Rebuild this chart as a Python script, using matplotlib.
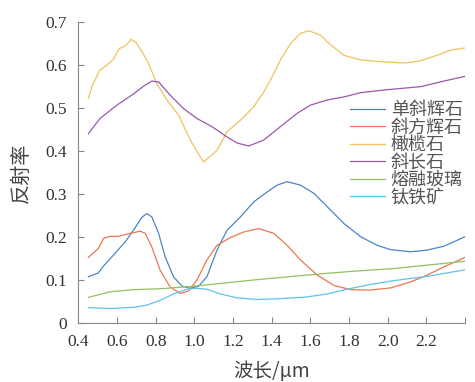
import matplotlib
matplotlib.use("Agg")
import matplotlib.pyplot as plt
import numpy as np

plt.rcParams['font.family'] = ['Liberation Serif', 'Noto Sans CJK SC', 'DejaVu Sans']

# Spectral reflectance of lunar minerals (wavelength in µm)
wl_cpx = [0.452, 0.504, 0.53, 0.581, 0.642, 0.685, 0.728, 0.754, 0.78, 0.815, 0.849, 0.892,
          0.936, 0.979, 1.022, 1.065, 1.117, 1.169, 1.238, 1.307, 1.376, 1.428, 1.48, 1.549,
          1.618, 1.687, 1.773, 1.86, 1.946, 2.015, 2.119, 2.205, 2.291, 2.40]
r_cpx = [0.108, 0.117, 0.133, 0.158, 0.189, 0.216, 0.246, 0.255, 0.247, 0.209, 0.154, 0.108,
         0.086, 0.081, 0.086, 0.108, 0.17, 0.216, 0.247, 0.282, 0.305, 0.321, 0.329, 0.321,
         0.302, 0.271, 0.232, 0.201, 0.181, 0.171, 0.166, 0.17, 0.179, 0.201]

wl_opx = [0.452, 0.504, 0.53, 0.564, 0.607, 0.651, 0.72, 0.746, 0.78, 0.823, 0.875, 0.927,
          0.97, 1.013, 1.065, 1.117, 1.186, 1.255, 1.333, 1.41, 1.48, 1.549, 1.635, 1.721,
          1.808, 1.911, 2.015, 2.119, 2.205, 2.291, 2.40]
r_opx = [0.153, 0.174, 0.197, 0.202, 0.202, 0.207, 0.214, 0.209, 0.177, 0.123, 0.084, 0.069,
         0.075, 0.10, 0.147, 0.181, 0.199, 0.212, 0.22, 0.209, 0.181, 0.147, 0.112, 0.088,
         0.078, 0.077, 0.082, 0.096, 0.112, 0.131, 0.153]

wl_ol = [0.452, 0.47, 0.51, 0.547, 0.58, 0.612, 0.642, 0.673, 0.70, 0.757, 0.806, 0.858,
         0.918, 0.979, 1.03, 1.048, 1.117, 1.169, 1.238, 1.307, 1.359, 1.393, 1.445, 1.497,
         1.549, 1.592, 1.652, 1.687, 1.773, 1.86, 1.963, 2.084, 2.16, 2.257, 2.326, 2.40]
r_ol = [0.523, 0.55, 0.588, 0.60, 0.613, 0.639, 0.644, 0.66, 0.652, 0.61, 0.557, 0.519,
        0.484, 0.426, 0.387, 0.375, 0.402, 0.445, 0.472, 0.503, 0.538, 0.565, 0.612, 0.65,
        0.674, 0.68, 0.67, 0.654, 0.623, 0.612, 0.608, 0.605, 0.609, 0.623, 0.635, 0.64]

wl_plag = [0.452, 0.512, 0.599, 0.685, 0.737, 0.78, 0.815, 0.875, 0.944, 1.013, 1.091, 1.169,
           1.221, 1.281, 1.359, 1.445, 1.532, 1.60, 1.687, 1.773, 1.86, 1.998, 2.17, 2.291, 2.40]
r_plag = [0.441, 0.476, 0.507, 0.533, 0.551, 0.563, 0.561, 0.53, 0.499, 0.476, 0.457, 0.433,
          0.419, 0.412, 0.426, 0.457, 0.488, 0.507, 0.519, 0.526, 0.536, 0.543, 0.55, 0.563, 0.574]

wl_glass = [0.452, 0.564, 0.685, 0.823, 0.996, 1.169, 1.341, 1.514, 1.687, 1.86, 2.032, 2.205, 2.40]
r_glass = [0.06, 0.073, 0.078, 0.08, 0.086, 0.094, 0.102, 0.109, 0.116, 0.122, 0.127, 0.135, 0.144]

wl_ilm = [0.452, 0.564, 0.685, 0.754, 0.823, 0.892, 0.962, 1.013, 1.065, 1.134, 1.22, 1.324,
          1.445, 1.583, 1.687, 1.79, 1.911, 2.032, 2.205, 2.40]
r_ilm = [0.036, 0.034, 0.037, 0.042, 0.053, 0.068, 0.079, 0.081, 0.079, 0.068, 0.059, 0.055,
         0.057, 0.061, 0.068, 0.079, 0.09, 0.099, 0.109, 0.124]

series = [
    ("单斜辉石", wl_cpx, r_cpx, "#4a86c6"),
    ("斜方辉石", wl_opx, r_opx, "#e8784e"),
    ("橄榄石", wl_ol, r_ol, "#f2c25c"),
    ("斜长石", wl_plag, r_plag, "#9858ae"),
    ("熔融玻璃", wl_glass, r_glass, "#94c164"),
    ("钛铁矿", wl_ilm, r_ilm, "#62c2ea"),
]

x_ticks = [0.4, 0.6, 0.8, 1.0, 1.2, 1.4, 1.6, 1.8, 2.0, 2.2, 2.4]
x_tick_labels = ["0.4", "0.6", "0.8", "1.0", "1.2", "1.4", "1.6", "1.8", "2.0", "2.2", ""]
y_ticks = [0, 0.1, 0.2, 0.3, 0.4, 0.5, 0.6, 0.7]
y_tick_labels = ["0", "0.1", "0.2", "0.3", "0.4", "0.5", "0.6", "0.7"]

fig = plt.figure(figsize=(4.75, 3.82), dpi=100)
ax = fig.add_axes([0.165, 0.154, 0.814, 0.788])

for name, x, y, c in series:
    ax.plot(x, y, color=c, lw=0.9, label=name)

ax.set_xlim(0.4, 2.4)
ax.set_ylim(0, 0.7)
ax.set_xticks(x_ticks)
ax.set_xticklabels(x_tick_labels)
ax.set_yticks(y_ticks)
ax.set_yticklabels(y_tick_labels)

for side in ("top", "right"):
    ax.spines[side].set_visible(False)
for side in ("left", "bottom"):
    ax.spines[side].set_color("#888888")
    ax.spines[side].set_linewidth(0.8)
ax.tick_params(direction="in", length=4, width=0.8, color="#888888",
               labelsize=12.5, labelcolor="#333333", pad=8)

cjk = ["Noto Sans CJK SC", "DejaVu Sans"]
ax.set_xlabel("波长/μm", fontsize=14, color="#444444", family=cjk, labelpad=8)
ax.set_ylabel("反射率", fontsize=14.5, color="#444444", family=cjk, labelpad=10)

leg = ax.legend(loc="upper left", bbox_to_anchor=(350 / 475, 1 - 101 / 382),
                bbox_transform=fig.transFigure, frameon=False,
                prop={"family": ["Noto Sans CJK SC"], "size": 13},
                handlelength=1.95, handletextpad=0.3, labelspacing=-0.03,
                borderpad=0, borderaxespad=0)
for t in leg.get_texts():
    t.set_color("#555555")

fig.savefig("out.png", dpi=100)
